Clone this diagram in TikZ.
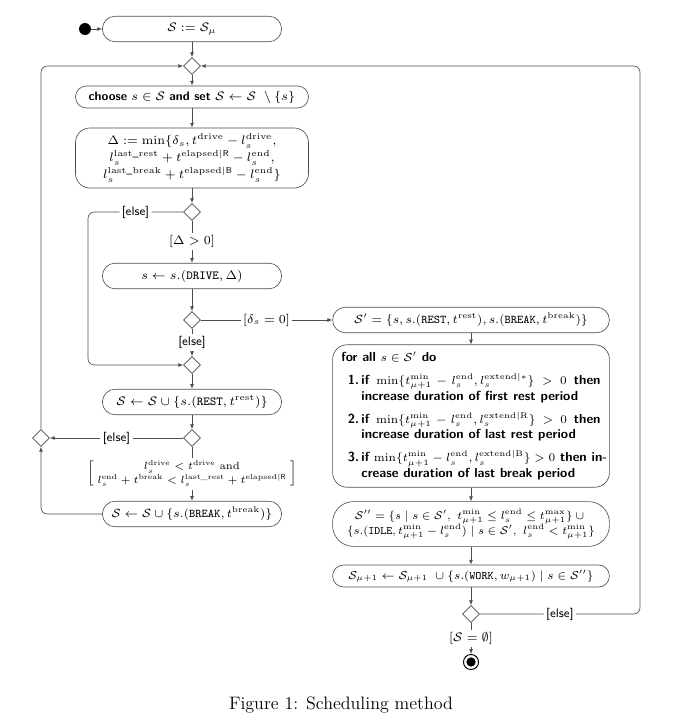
\RequirePackage{fix-cm}
\documentclass[tikz,border=0pt]{standalone}
\usepackage{amssymb}
\usepackage{amsmath}
\usetikzlibrary{shapes.geometric,arrows.meta}
\definecolor{linec}{HTML}{4D4D4D}
\newcommand{\lend}{l_s^{\mathrm{end}}}
\newcommand{\tmin}{t_{\mu+1}^{\min}}
\newcommand{\fm}[1]{{\fontsize{7.3}{9}\selectfont$#1$}}
\newcommand{\fitem}[3]{\par\vspace{4.5pt}\noindent\hspace*{12.5pt}\llap{#1\,}\makebox[\dimexpr\linewidth-12.5pt][s]{#2}\par\noindent\hspace*{12.5pt}#3\par}

\begin{document}
\begin{tikzpicture}[x=0.625pt,y=-0.625pt,
	act/.style={draw=linec, rounded corners=8pt, minimum width=112pt, minimum height=16pt, inner sep=1pt, font=\fontsize{7.7}{9.3}\selectfont\sffamily},
	wact/.style={act, minimum width=173pt},
	dec/.style={draw=linec, diamond, inner sep=0pt, minimum size=10.6pt},
	guard/.style={fill=white, inner sep=1.5pt, font=\fontsize{7.7}{9.3}\selectfont\sffamily},
	flow/.style={draw=linec, -{Latex[length=3pt,width=2.4pt]}},
	backflow/.style={flow, rounded corners=4pt},
	endnode/.style={circle, draw=black, line width=0.6pt, minimum size=9.4pt, inner sep=0pt, path picture={\fill[black] (path picture bounding box.center) circle (2.9pt);}}]
	\useasboundingbox (0,0) rectangle (675,728);
	\coordinate (elsel) at (88,0);
	\coordinate (elser) at (640,0);
	% left column
	\node[circle, fill=black, minimum size=7.5pt, inner sep=0pt] (start) at (85,29) {};
	\node[act] (init) at (192,29) {$\mathcal{S} := \mathcal{S}_\mu$};
	\node[dec] (m1) at (192,66) {};
	\node[act, minimum width=145.6pt, minimum height=13.8pt, rounded corners=6.9pt] (choose) at (192,97) {\textbf{choose} $s\in\mathcal{S}$ \textbf{and set} $\mathcal{S}\leftarrow\mathcal{S}\ \setminus\{s\}$};
	\node[act, minimum width=145.6pt, minimum height=37.5pt, rounded corners=9pt, align=center] (delta) at (192,158) {$\Delta := \min\{\delta_s, t^{\mathrm{drive}} - l_s^{\mathrm{drive}},$\\ $l_s^{\mathrm{last\_rest}} + t^{\mathrm{elapsed|\mathsf{R}}} - \lend,$\\ $l_s^{\mathrm{last\_break}} + t^{\mathrm{elapsed|\mathsf{B}}} - \lend\}$};
	\node[dec] (d2) at (192,212) {};
	\node[act] (drive) at (192,276) {$s \leftarrow s.(\mathtt{DRIVE},\Delta)$};
	\node[dec] (d3) at (192,320) {};
	\node[dec] (m4) at (192,365) {};
	\node[act] (rest) at (192,402) {$\mathcal{S}\leftarrow\mathcal{S}\cup\{s.(\mathtt{REST},t^{\mathrm{rest}})\}$};
	\node[dec] (d5) at (192,438) {};
	\node[dec] (ml) at (41,438) {};
	\node[act, font=\fontsize{7.4}{9}\selectfont] (brk) at (192,514) {$\mathcal{S}\leftarrow\mathcal{S}\cup\{s.(\mathtt{BREAK},t^{\mathrm{break}})\}$};
	% right column
	\node[wact, font=\fontsize{7.4}{9}\selectfont] (sp) at (471,320) {$\mathcal{S}' = \{s, s.(\mathtt{REST},t^{\mathrm{rest}}), s.(\mathtt{BREAK},t^{\mathrm{break}})\}$};
	\node[wact, minimum height=89pt, rounded corners=9pt, font=\fontsize{8.2}{9.8}\selectfont\sffamily] (forall) at (471,416) {\begin{minipage}{162pt}\bfseries
		for all \fm{s\in\mathcal{S}'} do
		\fitem{1.}{if \fm{\min\{\tmin - \lend, l_s^{\mathrm{extend}|*}\} > 0} then}{increase duration of first rest period}
		\fitem{2.}{if \fm{\min\{\tmin - \lend, l_s^{\mathrm{extend}|\mathrm{R}}\} > 0} then}{increase duration of last rest period}
		\fitem{3.}{\mbox{if \fm{\min\{\tmin - \lend, l_s^{\mathrm{extend}|\mathrm{B}}\} > 0} then in-}}{crease duration of last break period}
	\end{minipage}};
	\node[wact, minimum height=28pt, rounded corners=13pt, align=center, font=\fontsize{7}{9.5}\selectfont] (spp) at (471,524) {$\mathcal{S}'' = \{s \mid s\in\mathcal{S}',\ \tmin \le \lend \le t_{\mu+1}^{\max}\} \cup{}$\\ $\{s.(\mathtt{IDLE}, \tmin - \lend) \mid s\in\mathcal{S}',\ \lend < \tmin\}$};
	\node[wact, minimum height=13.8pt, rounded corners=6.9pt, font=\fontsize{7.2}{9}\selectfont] (smu) at (471,576) {$\mathcal{S}_{\mu+1} \leftarrow \mathcal{S}_{\mu+1}\ \cup \{s.(\mathtt{WORK}, w_{\mu+1}) \mid s\in\mathcal{S}''\}$};
	\node[dec] (d6) at (471,614) {};
	\node[endnode] (end) at (471,662) {};
	\node[font=\fontsize{11.25}{13.5}\selectfont] (cap) at (341,705) {Figure 1: Scheduling method};
	% connectors
	\draw[flow] (start) -- (init);
	\draw[flow] (init) -- (m1);
	\draw[flow] (m1) -- (choose);
	\draw[flow] (choose) -- (delta);
	\draw[flow] (delta) -- (d2);
	\draw[flow] (d2) -- node[guard] {$[\Delta > 0]$} (drive);
	\draw[backflow] (d2.west) -- node[guard] {[else]} (d2.west -| elsel) |- (m4.west);
	\draw[flow] (drive) -- (d3);
	\draw[flow] (d3) -- node[guard] {$[\delta_s = 0]$} (sp);
	\draw[flow] (d3) -- node[guard] {[else]} (m4);
	\draw[flow] (m4) -- (rest);
	\draw[flow] (rest) -- (d5);
	\draw[flow] (d5) -- node[guard] {[else]} (ml);
	\draw[flow] (d5) -- node[guard, font=\fontsize{6.5}{8}\selectfont] {$\left[\;\begin{array}{@{}c@{}} l_s^{\mathrm{drive}} < t^{\mathrm{drive}}\ \mathrm{and}\\ \lend + t^{\mathrm{break}} < l_s^{\mathrm{last\_rest}} + t^{\mathrm{elapsed|\mathsf{R}}}\end{array}\;\right]$} (brk);
	\draw[backflow] (brk.west) -| (ml.south);
	\draw[backflow] (ml.north) |- (m1.west);
	\draw[flow] (sp) -- (forall);
	\draw[flow] (forall) -- (spp);
	\draw[flow] (spp) -- (smu);
	\draw[flow] (smu) -- (d6);
	\draw[flow] (d6) -- node[guard] {$[\mathcal{S} = \emptyset]$} (end);
	\draw[backflow] (d6.east) -- node[guard] {[else]} (d6.east -| elser) |- (m1.east);
\end{tikzpicture}
\end{document}
